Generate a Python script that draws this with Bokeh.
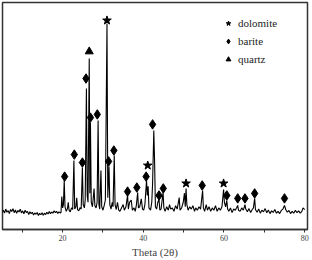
from bokeh.plotting import figure
from bokeh.models import FixedTicker, Legend, LegendItem, Range1d
from bokeh.embed import file_html
from bokeh.resources import INLINE

# XRD pattern (2-theta, intensity a.u.)
two_theta = [
    5.0, 5.3, 5.6, 5.9, 6.2, 6.5, 6.8, 7.1, 7.4, 7.7, 8.0, 8.3, 8.6, 8.9, 9.2, 9.5, 9.8, 10.1,
    10.4, 10.7, 11.0, 11.3, 11.6, 11.9, 12.2, 12.5, 12.8, 13.1, 13.4, 13.7, 14.0, 14.3, 14.6,
    14.9, 15.2, 15.5, 15.8, 16.1, 16.4, 16.7, 17.0, 17.3, 17.6, 17.9, 18.2, 18.5, 18.8, 19.1,
    19.4, 19.6, 19.8, 20.0, 20.2, 20.4, 20.6, 20.9, 21.2, 21.4, 21.6, 21.9, 22.2, 22.5, 22.8,
    23.0, 23.3, 23.5, 23.7, 24.0, 24.3, 24.6, 24.9, 25.1, 25.4, 25.6, 25.9, 26.1, 26.3, 26.6,
    26.75, 26.9, 27.1, 27.4, 27.8, 28.0, 28.3, 28.55, 28.8, 29.0, 29.2, 29.5, 29.7, 30.0, 30.3,
    30.6, 31.0, 31.2, 31.5, 31.7, 32.0, 32.3, 32.5, 32.8, 33.0, 33.3, 33.6, 33.9, 34.2, 34.6,
    35.0, 35.3, 35.7, 36.1, 36.3, 36.6, 37.0, 37.3, 37.7, 38.0, 38.3, 38.6, 38.8, 39.1, 39.5,
    39.8, 40.1, 40.4, 40.8, 41.0, 41.2, 41.4, 41.8, 42.1, 42.3, 42.6, 42.8, 43.0, 43.3, 43.6,
    43.9, 44.1, 44.4, 44.9, 45.1, 45.4, 45.8, 46.2, 46.5, 46.8, 47.2, 47.6, 48.0, 48.4, 48.9,
    49.1, 49.5, 49.9, 50.2, 50.4, 50.6, 50.8, 51.1, 51.5, 51.9, 52.3, 52.7, 53.0, 53.4, 53.8,
    54.2, 54.7, 54.9, 55.2, 55.6, 55.9, 56.3, 56.7, 57.1, 57.5, 57.9, 58.3, 58.7, 59.1, 59.5,
    59.9, 60.1, 60.4, 60.7, 60.9, 61.2, 61.6, 62.0, 62.4, 62.8, 63.1, 63.4, 63.6, 64.0, 64.4,
    64.8, 65.2, 65.4, 65.8, 66.2, 66.6, 67.0, 67.3, 67.6, 67.8, 68.2, 68.6, 69.0, 69.4, 69.8,
    70.2, 70.6, 71.0, 71.4, 71.8, 72.2, 72.6, 73.0, 73.4, 73.8, 74.2, 74.6, 75.0, 75.3, 75.7,
    76.1, 76.5, 76.9, 77.3, 77.7, 78.1, 78.5, 78.9, 79.3, 79.6, 80.0,
]
intensity = [
    78, 85, 72, 90, 76, 83, 70, 88, 79, 92, 74, 86, 71, 84, 77, 89, 73, 82,
    69, 85, 75, 80, 66, 78, 70, 76, 64, 73, 67, 75, 62, 71, 65,
    74, 63, 72, 66, 76, 68, 79, 70, 77, 72, 83, 74, 80, 71, 78,
    73, 75, 145, 95, 110, 216, 100, 80, 92, 120, 85, 78, 95, 88, 304,
    90, 100, 140, 88, 82, 96, 90, 273, 110, 95, 130, 621, 150, 120, 753,
    160, 471, 120, 100, 180, 105, 95, 120, 480, 110, 90, 260, 100, 85, 105,
    130, 907, 140, 278, 110, 90, 120, 100, 326, 110, 88, 120, 85, 80, 95,
    110, 85, 100, 150, 90, 120, 130, 85, 95, 80, 110, 163, 95, 100, 135,
    90, 85, 110, 216, 150, 190, 95, 85, 120, 200, 436, 300, 100, 90, 120,
    132, 85, 90, 163, 95, 80, 100, 85, 110, 90, 95, 80, 105, 90, 141,
    85, 95, 120, 160, 100, 180, 110, 85, 100, 90, 105, 80, 95, 85, 100,
    90, 172, 95, 80, 110, 85, 100, 80, 95, 85, 105, 80, 95, 85, 100,
    176, 120, 100, 128, 90, 80, 95, 75, 90, 85, 95, 106, 85, 80, 95,
    85, 110, 90, 78, 92, 75, 88, 95, 137, 88, 76, 90, 72, 85, 78,
    92, 74, 86, 70, 82, 75, 88, 72, 80, 70, 84, 90, 106, 88, 76,
    84, 70, 80, 72, 85, 74, 82, 72, 80, 95, 88,
]

# Phase markers
dolomite_x = [31.0, 41.1, 50.6, 59.9]
dolomite_y = [921, 282, 203, 203]
barite_x = [20.5, 22.9, 24.9, 25.8, 26.9, 28.6, 31.4, 32.7, 36.1, 38.4, 40.7, 42.3,
            43.9, 44.95, 54.6, 60.7, 63.4, 65.2, 67.6, 75.0]
barite_y = [233, 330, 295, 665, 493, 507, 300, 348, 167, 185, 233, 463,
            150, 181, 194, 150, 137, 137, 159, 137]
quartz_x = [26.6]
quartz_y = [784]

x_ticks = [20, 40, 60, 80]
x_minor = [10, 30, 50, 70]

p = figure(width=312, height=260, output_backend="svg", toolbar_location=None,
           x_range=Range1d(5.1, 80.7), y_range=Range1d(0, 1000),
           min_border_left=2, min_border_right=5, min_border_top=2, min_border_bottom=0)
p.yaxis.visible = False
p.xgrid.visible = False
p.ygrid.visible = False
p.outline_line_color = "#333333"
p.outline_line_width = 1.5
p.outline_line_alpha = 1.0
p.background_fill_color = "white"
p.border_fill_color = "white"

xa = p.xaxis[0]
xa.ticker = FixedTicker(ticks=x_ticks, minor_ticks=x_minor)
xa.axis_label = "Theta (2θ)"
xa.axis_label_text_font = "Liberation Serif"
xa.axis_label_text_font_style = "normal"
xa.axis_label_text_font_size = "11px"
xa.axis_label_standoff = 2
xa.major_label_text_font = "Liberation Serif"
xa.major_label_text_font_size = "8px"
xa.major_label_standoff = 2
xa.axis_line_color = "#333333"
xa.axis_line_width = 1.5
xa.major_tick_line_color = "#333333"
xa.minor_tick_line_color = "#333333"
xa.major_tick_in = 0
xa.major_tick_out = 3
xa.minor_tick_in = 0
xa.minor_tick_out = 3

p.line(two_theta, intensity, line_color="black", line_width=1.1)

r_dol = p.scatter(dolomite_x, dolomite_y, marker="star", size=9, color="black")
r_bar = p.scatter(barite_x, barite_y, marker="diamond", size=9.5, color="black")
r_qtz = p.scatter(quartz_x, quartz_y, marker="triangle", size=8, color="black")

legend = Legend(items=[
    LegendItem(label="dolomite", renderers=[r_dol]),
    LegendItem(label="barite", renderers=[r_bar]),
    LegendItem(label="quartz", renderers=[r_qtz]),
], location=(220, 161))
legend.border_line_color = None
legend.background_fill_alpha = 0
legend.padding = 0
legend.margin = 0
legend.spacing = 0
legend.glyph_width = 12
legend.glyph_height = 18
legend.label_height = 18
legend.label_standoff = 4
legend.label_text_font = "Liberation Serif"
legend.label_text_font_size = "11px"
legend.label_text_color = "#222222"
p.add_layout(legend, "center")

open("out.html", "w").write(file_html(p, INLINE))
